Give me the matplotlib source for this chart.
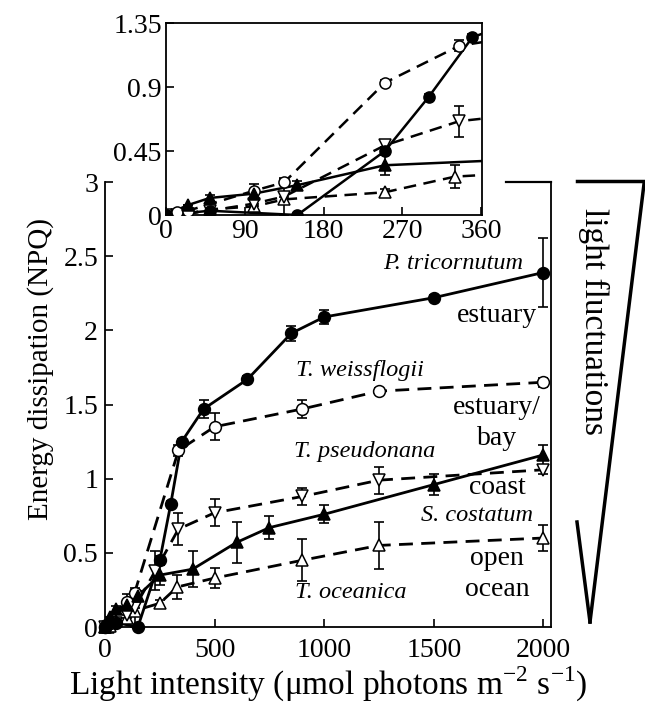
import matplotlib
matplotlib.use("Agg")
import matplotlib.pyplot as plt
from matplotlib.lines import Line2D

plt.rcParams['font.family'] = ['Liberation Serif', 'DejaVu Serif']
plt.rcParams['mathtext.fontset'] = 'custom'
plt.rcParams['mathtext.rm'] = 'Liberation Serif'

# --- datos ---
tri_x = [0, 50, 150, 250, 300, 350, 450, 650, 850, 1000, 1500, 2000]
tri_y = [0, 0.03, 0, 0.45, 0.83, 1.25, 1.47, 1.67, 1.98, 2.09, 2.22, 2.39]
tri_e = [0, 0, 0, 0.03, 0.02, 0.02, 0.06, 0.02, 0.05, 0.05, 0.02, 0.23]

wei_x = [0, 12, 25, 100, 135, 335, 500, 900, 1250, 2000]
wei_y = [0, 0.02, 0.03, 0.17, 0.23, 1.19, 1.35, 1.47, 1.59, 1.65]
wei_e = [0, 0, 0, 0.05, 0.02, 0.04, 0.09, 0.06, 0.02, 0.03]
# el recuadro muestra ademas el punto de 250
wei_ins_x = [0, 12, 25, 100, 135, 250, 335, 500]
wei_ins_y = [0, 0.02, 0.03, 0.17, 0.23, 0.93, 1.19, 1.35]
wei_ins_e = [0, 0, 0, 0.05, 0.02, 0.02, 0.04, 0.09]

pse_x = [0, 12, 25, 50, 100, 135, 230, 335, 500, 900, 1250, 2000]
pse_y = [0, 0, 0.01, 0.03, 0.08, 0.13, 0.38, 0.66, 0.77, 0.88, 0.99, 1.06]
pse_e = [0, 0, 0, 0, 0.02, 0.13, 0.13, 0.11, 0.09, 0.06, 0.09, 0.03]
pse_ins_x = [0, 12, 25, 50, 100, 135, 250, 335, 500]
pse_ins_y = [0, 0, 0.01, 0.03, 0.08, 0.13, 0.49, 0.66, 0.77]
pse_ins_e = [0, 0, 0, 0, 0.02, 0.13, 0.03, 0.11, 0.09]

cos_x = [0, 25, 50, 100, 150, 250, 400, 600, 750, 1000, 1500, 2000]
cos_y = [0, 0.07, 0.12, 0.15, 0.21, 0.35, 0.39, 0.57, 0.67, 0.76, 0.96, 1.16]
cos_e = [0, 0, 0.02, 0, 0.03, 0.07, 0.12, 0.14, 0.08, 0.06, 0.07, 0.07]

oce_x = [0, 12, 25, 50, 100, 135, 250, 330, 500, 900, 1250, 2000]
oce_y = [0, 0, 0.01, 0.04, 0.06, 0.11, 0.16, 0.27, 0.33, 0.45, 0.55, 0.60]
oce_e = [0, 0, 0, 0, 0.02, 0.02, 0.02, 0.08, 0.07, 0.14, 0.16, 0.09]

main_xticks = [0, 500, 1000, 1500, 2000]
main_yticks = [0, 0.5, 1, 1.5, 2, 2.5, 3]
main_yticklabels = ['0', '0.5', '1', '1.5', '2', '2.5', '3']
ins_xticks = [0, 90, 180, 270, 360]
ins_yticks = [0, 0.45, 0.9, 1.35]
ins_yticklabels = ['0', '0.45', '0.9', '1.35']

DASH = (0, (5, 3))
MAIN_SERIES = [
    (oce_x, oce_y, oce_e, '^', 'white', DASH),
    (pse_x, pse_y, pse_e, 'v', 'white', DASH),
    (wei_x, wei_y, wei_e, 'o', 'white', DASH),
    (cos_x, cos_y, cos_e, '^', 'black', '-'),
    (tri_x, tri_y, tri_e, 'o', 'black', '-'),
]
INSET_SERIES = [
    (oce_x, oce_y, oce_e, '^', 'white', DASH),
    (pse_ins_x, pse_ins_y, pse_ins_e, 'v', 'white', DASH),
    (wei_ins_x, wei_ins_y, wei_ins_e, 'o', 'white', DASH),
    (cos_x, cos_y, cos_e, '^', 'black', '-'),
    (tri_x, tri_y, tri_e, 'o', 'black', '-'),
]


def draw_series(ax, series, ms, lw, clip):
    for x, y, e, m, fc, ls in series:
        ax.errorbar(x, y, yerr=e, fmt='none', ecolor='black', elinewidth=1.2,
                    capsize=3.5, capthick=1.2, zorder=2)
        ax.plot(x, y, color='black', linestyle=ls, linewidth=lw, zorder=3)
        ax.plot(x, y, linestyle='none', marker=m, markersize=ms,
                markerfacecolor=fc, markeredgecolor='black',
                markeredgewidth=1.1, zorder=4, clip_on=clip)


fig = plt.figure(figsize=(6.45, 7.08), dpi=100)

# --- grafico principal ---
ax = fig.add_axes([0.1628, 0.1144, 0.6915, 0.6285])
draw_series(ax, MAIN_SERIES, 8.5, 2.0, False)
ax.set_xlim(0, 2035)
ax.set_ylim(0, 3)
ax.set_xticks(main_xticks)
ax.set_yticks(main_yticks)
ax.set_yticklabels(main_yticklabels)
ax.tick_params(direction='in', length=6, width=1.2, labelsize=20, pad=5)
ax.tick_params(axis='x', pad=8)
ax.spines['top'].set_visible(False)
for s in ['left', 'right', 'bottom']:
    ax.spines[s].set_linewidth(1.3)
ax.plot([1830, 2035], [3, 3], color='black', linewidth=1.6, clip_on=False)
ax.set_xlabel('Light intensity (μmol photons m$^{-2}$ s$^{-1}$)', fontsize=24, labelpad=1)
ax.set_ylabel('Energy dissipation (NPQ)', fontsize=21)
ax.yaxis.set_label_coords(-0.115, 0.58)

ital = dict(style='italic', fontsize=17.5, ha='center', va='center')
upr = dict(fontsize=20, ha='center', va='center')
ax.text(1588, 2.45, 'P. tricornutum', **ital)
ax.text(1788, 2.10, 'estuary', **upr)
ax.text(1163, 1.73, 'T. weissflogii', **ital)
ax.text(1788, 1.48, 'estuary/', **upr)
ax.text(1788, 1.27, 'bay', **upr)
ax.text(1186, 1.18, 'T. pseudonana', **ital)
ax.text(1788, 0.94, 'coast', **upr)
ax.text(1697, 0.755, 'S. costatum', **ital)
ax.text(1788, 0.465, 'open', **upr)
ax.text(1788, 0.25, 'ocean', **upr)
ax.text(1122, 0.23, 'T. oceanica', **ital)

# --- recuadro ---
ins = fig.add_axes([0.2574, 0.6963, 0.490, 0.2712])
ins.set_facecolor('white')
draw_series(ins, INSET_SERIES, 8, 1.8, True)
ins.set_xlim(0, 361)
ins.set_ylim(0, 1.35)
ins.set_xticks(ins_xticks)
ins.set_yticks(ins_yticks)
ins.set_yticklabels(ins_yticklabels)
ins.tick_params(direction='in', length=6, width=1.2, labelsize=20, pad=3)
for s in ins.spines.values():
    s.set_linewidth(1.3)

# --- triangulo de fluctuaciones ---
W, H = 645.0, 708.0
def fx(p):
    return p / W
def fy(p):
    return 1 - p / H

fig.add_artist(Line2D([fx(577), fx(645)], [fy(181), fy(181)], color='black', linewidth=2.5))
fig.add_artist(Line2D([fx(644), fx(590)], [fy(184), fy(622)], color='black', linewidth=2.5))
fig.add_artist(Line2D([fx(577), fx(590)], [fy(522), fy(622)], color='black', linewidth=2.5))
fig.text(fx(594), fy(322), 'light fluctuations', rotation=270, fontsize=24,
         ha='center', va='center')

fig.savefig('out.png', dpi=100)
